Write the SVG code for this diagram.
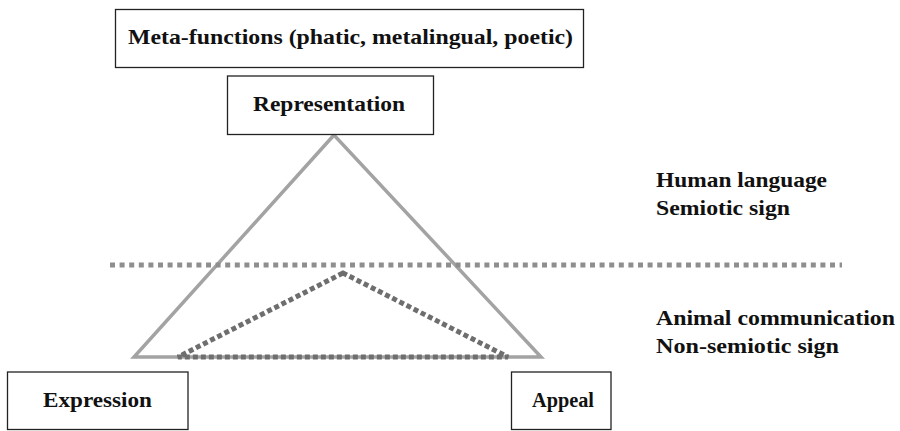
<svg xmlns="http://www.w3.org/2000/svg" width="900" height="431" viewBox="0 0 900 431">
<style>
.box{fill:#fff;stroke:#222;stroke-width:1.3}
.t{font-family:'Liberation Serif','Times New Roman',serif;font-weight:700;font-size:22px;fill:#111}
.solid{fill:none;stroke:#a3a3a3;stroke-width:3.5;stroke-linejoin:miter}
.dot1{fill:none;stroke:#8e8e8e;stroke-width:5;stroke-dasharray:5 4.6}
.dot2{fill:none;stroke:#6e6e6e;stroke-width:5;stroke-dasharray:5 3}
</style>
<rect width="900" height="431" fill="#fff"/>
<g id="connectors">
<polygon class="solid" points="334,135 134,357 541,357"/>
<line class="dot1" x1="110" y1="265" x2="842" y2="265"/>
<polygon class="dot2" points="343,273 178,357 508,357"/>
</g>
<g id="meta">
<rect class="box" x="115.5" y="9.5" width="468" height="58"/>
<text class="t" x="128" y="44" textLength="445" lengthAdjust="spacingAndGlyphs">Meta-functions (phatic, metalingual, poetic)</text>
</g>
<g id="representation">
<rect class="box" x="227.5" y="76" width="206" height="58.5"/>
<text class="t" x="253" y="111" textLength="152" lengthAdjust="spacingAndGlyphs">Representation</text>
</g>
<g id="human">
<text class="t" x="656" y="187" textLength="171" lengthAdjust="spacingAndGlyphs">Human language</text>
<text class="t" x="656" y="215" textLength="134" lengthAdjust="spacingAndGlyphs">Semiotic sign</text>
</g>
<g id="animal">
<text class="t" x="656" y="325" textLength="239" lengthAdjust="spacingAndGlyphs">Animal communication</text>
<text class="t" x="656" y="353" textLength="183" lengthAdjust="spacingAndGlyphs">Non-semiotic sign</text>
</g>
<g id="expression">
<rect class="box" x="7.5" y="372" width="180.5" height="57.5"/>
<text class="t" x="43" y="407" textLength="109" lengthAdjust="spacingAndGlyphs">Expression</text>
</g>
<g id="appeal">
<rect class="box" x="511.5" y="372" width="99.5" height="57.5"/>
<text class="t" x="532" y="407" textLength="62" lengthAdjust="spacingAndGlyphs">Appeal</text>
</g>
</svg>
